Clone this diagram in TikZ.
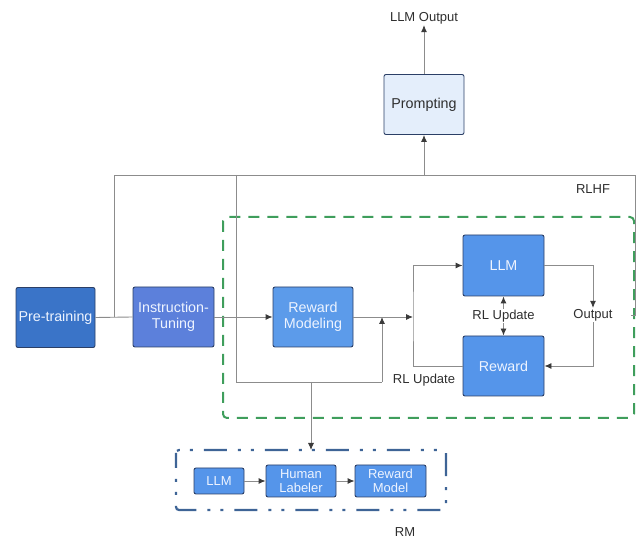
\documentclass[tikz,border=0pt]{standalone}
\usepackage{fontspec}
\setmainfont{Liberation Sans}
\usetikzlibrary{arrows.meta}
\definecolor{edge}{HTML}{2B3F66}
\definecolor{wire}{HTML}{8C8C8C}
\definecolor{tip}{HTML}{3A3A3A}
\definecolor{txt}{HTML}{2E2E2E}
\definecolor{ptrain}{HTML}{3A74C8}
\definecolor{itune}{HTML}{5C80DB}
\definecolor{rmodel}{HTML}{5C9BEA}
\definecolor{stage}{HTML}{5595EA}
\definecolor{promptfill}{HTML}{E4EEFB}
\definecolor{rlhfgreen}{HTML}{3F9E5C}
\definecolor{rmblue}{HTML}{3E6496}
\definecolor{boxtext}{HTML}{EEF4FF}
\tikzset{
  box/.style={draw=edge, line width=0.9pt, rounded corners=2pt, text=boxtext,
    align=center, inner sep=0pt, font=\fontsize{14.3}{16}\selectfont},
  smallbox/.style={box, font=\fontsize{13}{14}\selectfont},
  label/.style={text=txt, font=\fontsize{13}{15}\selectfont, inner sep=1pt},
  wireline/.style={draw=wire, line width=0.9pt},
  arr/.style={wireline, -{Latex[length=7pt,width=6pt,color=tip]}},
  darr/.style={wireline, {Latex[length=7pt,width=6pt,color=tip]}-{Latex[length=7pt,width=6pt,color=tip]}},
}
\begin{document}
\begin{tikzpicture}[x=1pt,y=-1pt]
\useasboundingbox (0,0) rectangle (641,540);

% main pipeline
\node[box, fill=ptrain, minimum width=79pt, minimum height=60pt] (pre) at (55.5,317.5) {Pre-training};
\node[box, fill=itune, minimum width=81pt, minimum height=60pt] (inst) at (173.5,317) {Instruction-\\Tuning};
\node[box, fill=rmodel, minimum width=80pt, minimum height=60pt] (rmod) at (313,317) {Reward\\Modeling};
\node[box, fill=stage, minimum width=81pt, minimum height=61pt] (llm) at (503.5,265.5) {LLM};
\node[box, fill=stage, minimum width=81pt, minimum height=60pt] (rew) at (503.5,366) {Reward};
\node[box, fill=promptfill, text=txt, minimum width=80pt, minimum height=60pt] (prompt) at (424,104.5) {Prompting};
\node[label] (llmout) at (424,18) {LLM Output};

% labels
\node[label] (rlhf) at (593,189) {RLHF};
\node[label] (outp) at (593,315) {Output};
\node[label] (rlu2) at (424,380) {RL Update};
\node[label] (rm) at (405,532) {RM};

% RLHF region
\draw[rlhfgreen, line width=2pt, dash pattern=on 11pt off 8pt, rounded corners=4pt]
  (223,217) rectangle (634,418);
% RM region
\draw[rmblue, line width=2.2pt, dash pattern=on 23pt off 11pt on 3pt off 10pt on 3pt off 11pt, dash phase=8pt, rounded corners=3pt]
  (176,450) rectangle (446,510);
\coordinate (rmtop) at (311,450);

% reward model pipeline
\node[smallbox, fill=stage, minimum width=50pt, minimum height=26pt] (sllm) at (219,481) {LLM};
\node[smallbox, fill=stage, minimum width=70pt, minimum height=32pt] (hum) at (301,481) {Human\\Labeler};
\node[smallbox, fill=stage, minimum width=71pt, minimum height=32pt] (rmo) at (390.5,481) {Reward\\Model};
\draw[arr] (sllm) -- (hum);
\draw[arr] (hum) -- (rmo);

% connectors
\coordinate (j1) at (114,317.5);
\coordinate (tl) at (114,175);
\coordinate (tm) at (424,175);
\coordinate (tr) at (635,175);
\coordinate (rb) at (635,315);
\coordinate (rbe) at (631,315);
\coordinate (lt) at (236,175);
\coordinate (lb) at (236,382);
\coordinate (rmj) at (311,382);
\coordinate (mb) at (382,382);
\coordinate (mj) at (382,317);
\coordinate (lj) at (413,317);

\draw[wireline] (pre.east) -- (inst.west);
\draw[wireline] (j1) -- (tl) -- (tr) -- (rb) -- (rbe);
\draw[arr] (tm) -- (prompt.south);
\draw[arr] (prompt.north) -- (llmout.south);
\draw[wireline] (lt) -- (lb) -- (mb);
\draw[arr] (mb) -- (mj);
\draw[arr] (rmj) -- (rmtop);
\draw[arr] (inst.east) -- (rmod.west);
\draw[arr] (rmod.east) -- (lj);
\draw[arr] (rew.west) -| (lj) |- (llm.west);
\draw[arr] (llm.east) -| (outp.north);
\draw[arr] (outp.south) |- (rew.east);
\draw[darr] (llm.south) -- (rew.north);
\node[label, fill=white] (rlu1) at (503.5,316) {RL Update};
\end{tikzpicture}
\end{document}
